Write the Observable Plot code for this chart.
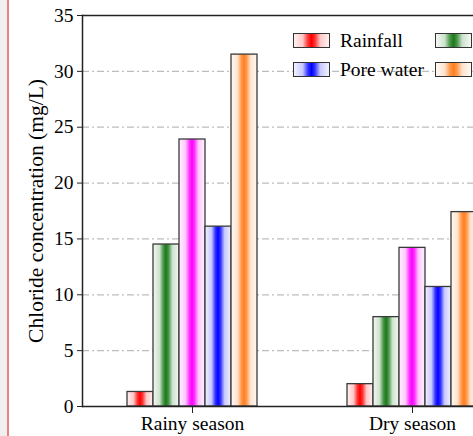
<!DOCTYPE html>
<html><head><meta charset="utf-8">
<script src="https://cdn.jsdelivr.net/npm/d3@7"></script>
<script src="https://cdn.jsdelivr.net/npm/@observablehq/plot@0.6"></script>
<style>
html,body{margin:0;padding:0;background:#fff;overflow:hidden;width:473px;height:436px}
#wrap{position:relative;width:473px;height:436px;overflow:hidden;background:#fff}
#strip{position:absolute;left:0;top:0;width:7px;height:436px;background:#f0f0f0}
#edge{position:absolute;left:7px;top:0;width:2px;height:436px;background:#ec8080}
#chart{position:absolute;left:0;top:0;width:620px;height:436px}
#chart svg{max-width:none !important;width:620px !important;height:436px !important}
#legend{position:absolute;left:293px;top:33px;display:grid;grid-template-columns:142px 142px 142px;row-gap:14px;font-family:"Liberation Serif",serif;font-size:19.5px;color:#000}
.item{display:flex;align-items:center;height:15px;white-space:nowrap}
.sw{width:35px;height:13px;border:1px solid #333;margin-right:10px;flex:none}
</style></head><body>
<div id="wrap"><div id="chart"></div><div id="legend"></div><div id="strip"></div><div id="edge"></div></div>
<script>
const seasons = ["Rainy season", "Dry season"];
const series = ["Rainfall", "Soil water", "Surface water", "Pore water", "Groundwater"];
const colors = ["#ff0000", "#1b7a1b", "#ff00ff", "#0000ff", "#ff7f1e"];
const rainyValues = [1.3, 14.5, 23.9, 16.1, 31.5];
const dryValues = [2.0, 8.0, 14.2, 10.7, 17.4];
const yTicks = [0, 5, 10, 15, 20, 25, 30, 35];
const yLabel = "Chloride concentration (mg/L)";

const data = [];
series.forEach((s, i) => {
  data.push({season: seasons[0], series: s, value: rainyValues[i], i});
  data.push({season: seasons[1], series: s, value: dryValues[i], i});
});

const stopOffsets = [0, 0.25, 0.4, 0.5, 0.6, 0.75, 1];
const stopMix = [0.05, 0.22, 0.8, 1, 0.8, 0.22, 0.05];

const chart = Plot.plot({
  width: 620, height: 436,
  marginLeft: 82, marginRight: 98, marginTop: 15, marginBottom: 30,
  style: {fontFamily: "Liberation Serif, serif", fontSize: "19.5px", color: "#000", background: "transparent", overflow: "visible", maxWidth: "none"},
  fx: {domain: seasons, padding: 0, label: null},
  x: {domain: series, paddingInner: 0, paddingOuter: 1.635, axis: null},
  y: {domain: [0, 35], label: null},
  color: {type: "identity"},
  marks: [
    Plot.gridY(yTicks.slice(1, -1), {stroke: "#bdbdbd", strokeOpacity: 1, strokeDasharray: "7,3,2,3", strokeWidth: 1.3}),
    Plot.barY(data, {fx: "season", x: "series", y: "value", fill: d => `url(#grad${d.i})`, stroke: "#3a3a3a", strokeWidth: 1.3}),
    Plot.ruleY([0, 35], {stroke: "#222", strokeWidth: 1.5}),
    Plot.frame({anchor: "left", facetAnchor: "left", stroke: "#222", strokeWidth: 1.5}),
    Plot.axisY(yTicks, {tickSize: 5, tickPadding: 4, stroke: "#222", label: yLabel, labelAnchor: "center", labelArrow: "none", labelOffset: 55}),
    Plot.axisFx({anchor: "bottom", tickSize: 7, tickPadding: 3, stroke: "#222", label: null})
  ]
});

const svg = d3.select(chart);
const defs = svg.insert("defs", ":first-child");
colors.forEach((c, i) => {
  const g = defs.append("linearGradient").attr("id", `grad${i}`).attr("x1", 0).attr("x2", 1).attr("y1", 0).attr("y2", 0);
  stopOffsets.forEach((o, k) => {
    g.append("stop").attr("offset", o).attr("stop-color", d3.interpolateRgb("#ffffff", c)(stopMix[k]));
  });
});
svg.selectAll('g[aria-label="y-axis label"] text').style("font-size", "21.5px");
document.getElementById("chart").appendChild(chart);

const legend = d3.select("#legend");
series.forEach((s, i) => {
  const css = "linear-gradient(to right," + stopOffsets.map((o, k) => d3.interpolateRgb("#ffffff", colors[i])(stopMix[k]) + " " + (o * 100) + "%").join(",") + ")";
  const item = legend.append("div").attr("class", "item");
  item.append("div").attr("class", "sw").style("background", css);
  item.append("span").text(s);
});
</script>
</body></html>
